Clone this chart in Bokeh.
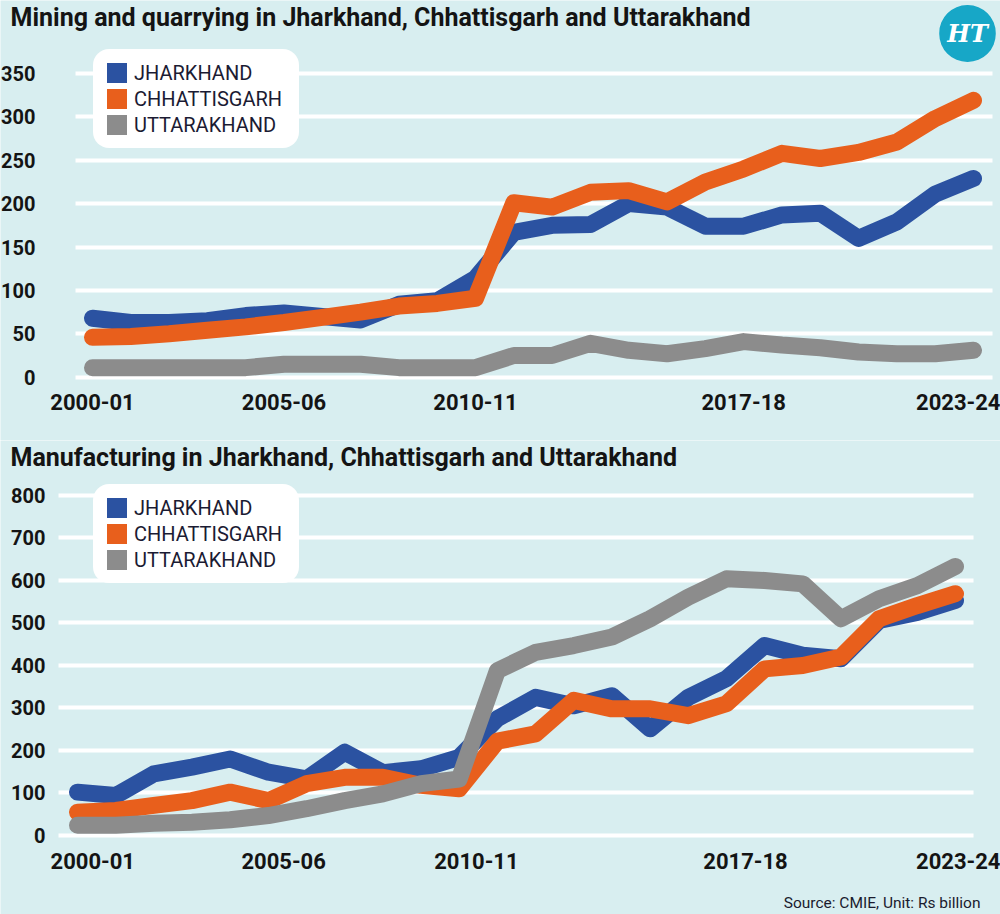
from bokeh.plotting import figure
from bokeh.layouts import column
from bokeh.models import (Range1d, FixedTicker, CustomJSTickFormatter, Legend,
                          LegendItem, Label, ColumnDataSource)
from bokeh.embed import file_html
from bokeh.resources import INLINE

# Fiscal years on the x axis (index 0 = 2000-01)
years = ["2000-01", "2001-02", "2002-03", "2003-04", "2004-05", "2005-06",
         "2006-07", "2007-08", "2008-09", "2009-10", "2010-11", "2011-12",
         "2012-13", "2013-14", "2014-15", "2015-16", "2016-17", "2017-18",
         "2018-19", "2019-20", "2020-21", "2021-22", "2022-23", "2023-24"]
tick_labels = ["2000-01", "2005-06", "2010-11", "2017-18", "2023-24"]

states = ["JHARKHAND", "CHHATTISGARH", "UTTARAKHAND"]

# Mining and quarrying, Rs billion
mining_jharkhand = [68, 63, 63, 65, 71, 74, 70, 66, 84, 88, 114, 167,
                    175, 176, 200, 196, 174, 174, 187, 189, 160, 179, 211, 229]
mining_chhattisgarh = [46, 47, 50, 54, 58, 63, 69, 75, 82, 85, 91, 201,
                       196, 213, 215, 202, 225, 240, 258, 252, 259, 271, 298, 319]
mining_uttarakhand = [11, 11, 11, 11, 11, 15, 15, 15, 11, 11, 11, 25,
                      25, 39, 31, 27, 33, 41, 37, 34, 29, 27, 27, 31]
mining_ticks = [0, 50, 100, 150, 200, 250, 300, 350]

# Manufacturing, Rs billion
manuf_jharkhand = [102, 94, 145, 161, 180, 149, 133, 196, 148, 157, 184, 275,
                   325, 305, 329, 251, 325, 369, 447, 424, 416, 506, 525, 553]
manuf_chhattisgarh = [55, 59, 71, 82, 102, 82, 122, 137, 137, 118, 110, 222,
                      239, 318, 298, 298, 282, 310, 392, 400, 420, 510, 541, 569]
manuf_uttarakhand = [24, 24, 29, 31, 37, 47, 63, 82, 98, 122, 133, 388,
                     431, 447, 467, 510, 561, 604, 600, 592, 510, 557, 588, 633]
manuf_ticks = [0, 100, 200, 300, 400, 500, 600, 700, 800]

COLORS = {"JHARKHAND": "#2b52a1", "CHHATTISGARH": "#e85f1c", "UTTARAKHAND": "#8c8c8c"}
BG = "#d8eef0"
INK = "#141414"
FONT = "Roboto"
x_index = list(range(len(years)))
NAN = float("nan")


def make_panel(title, series, draw_order, yticks, xr, yr, height, grid_span,
               xaxis_at, yaxis_at, label_pos, ylabel_standoff, legend_top):
    # the plot frame fills the whole figure; axes sit at fixed locations
    p = figure(width=1000, height=height, output_backend="svg", title=None,
               toolbar_location=None, x_range=Range1d(*xr), y_range=Range1d(*yr),
               min_border=0, min_border_left=0, min_border_right=0,
               min_border_top=0, min_border_bottom=0)
    p.background_fill_color = BG
    p.border_fill_color = BG
    p.outline_line_color = None

    p.add_layout(Label(x=10, y=height - 17, x_units="screen", y_units="screen",
                       text=title, text_font=FONT, text_font_size="25px",
                       text_font_style="bold", text_color=INK,
                       text_align="left", text_baseline="alphabetic"))

    p.xgrid.visible = False
    p.ygrid.ticker = FixedTicker(ticks=yticks)
    p.ygrid.grid_line_color = "white"
    p.ygrid.grid_line_width = 4
    try:
        p.ygrid.cross_bounds = grid_span
    except Exception:
        pass

    # series lines
    for name in draw_order:
        src = ColumnDataSource(dict(x=x_index, y=series[name]))
        p.line("x", "y", source=src, line_color=COLORS[name], line_width=17,
               line_cap="round", line_join="round")

    # axes
    xa = p.xaxis[0]
    xa.fixed_location = xaxis_at
    xa.ticker = FixedTicker(ticks=label_pos)
    xa.formatter = CustomJSTickFormatter(
        args=dict(pos=label_pos, labels=tick_labels),
        code="const i = pos.findIndex(t => Math.abs(t - tick) < 1e-6);"
             "return i >= 0 ? labels[i] : '';")
    ya = p.yaxis[0]
    ya.fixed_location = yaxis_at
    ya.ticker = FixedTicker(ticks=yticks)
    for ax, standoff, size in ((xa, 8, "22px"), (ya, ylabel_standoff, "20px")):
        ax.axis_line_color = None
        ax.major_tick_line_color = None
        ax.minor_tick_line_color = None
        ax.major_tick_out = 0
        ax.major_tick_in = 0
        ax.minor_tick_out = 0
        ax.minor_tick_in = 0
        ax.major_label_text_font = FONT
        ax.major_label_text_font_style = "bold"
        ax.major_label_text_font_size = size
        ax.major_label_text_color = INK
        ax.major_label_standoff = standoff

    # legend with square swatches
    items = []
    for name in states:
        sw = p.quad(left=[NAN], right=[NAN], top=[NAN], bottom=[NAN],
                    fill_color=COLORS[name], line_color=None)
        items.append(LegendItem(label=name, renderers=[sw]))
    legend = Legend(items=items, location=(93, height - legend_top - 97),
                    margin=0, padding=10,
                    spacing=1, glyph_width=25, glyph_height=25, label_height=25,
                    label_width=154, label_standoff=5,
                    background_fill_color="white", background_fill_alpha=1.0,
                    border_line_color="white", border_line_width=1,
                    label_text_font=FONT, label_text_font_size="20px",
                    label_text_color="#1b1b33")
    try:
        legend.border_radius = 16
    except Exception:
        pass
    p.add_layout(legend)
    return p


mining = dict(JHARKHAND=mining_jharkhand, CHHATTISGARH=mining_chhattisgarh,
              UTTARAKHAND=mining_uttarakhand)
manuf = dict(JHARKHAND=manuf_jharkhand, CHHATTISGARH=manuf_chhattisgarh,
             UTTARAKHAND=manuf_uttarakhand)

p1 = make_panel("Mining and quarrying in Jharkhand, Chhattisgarh and Uttarakhand",
                mining, ["UTTARAKHAND", "JHARKHAND", "CHHATTISGARH"], mining_ticks,
                xr=(-2.4018, 23.705), yr=(-72.95, 434.1), height=440,
                grid_span=(-0.444, 23.496), xaxis_at=-9.57, yaxis_at=-0.8876,
                label_pos=[0, 5, 10, 17, 22.7], ylabel_standoff=23, legend_top=51)

p2 = make_panel("Manufacturing in Jharkhand, Chhattisgarh and Uttarakhand",
                manuf, ["JHARKHAND", "CHHATTISGARH", "UTTARAKHAND"], manuf_ticks,
                xr=(-2.0171, 24.179), yr=(-185.9, 929.4), height=474,
                grid_span=(-0.4977, 23.4715), xaxis_at=-23.53, yaxis_at=-0.4977,
                label_pos=[0.4, 5.4, 10.45, 17.5, 23.15], ylabel_standoff=13,
                legend_top=46)

# HT masthead badge
logo = Label(x=967, y=440 - 33, x_units="screen", y_units="screen", text="HT",
             text_font="DejaVu Serif", text_font_style="bold italic",
             text_font_size="24px", text_color="white", text_align="center",
             text_baseline="middle", background_fill_color="#17a7c7")
try:
    logo.padding = dict(left=8, right=8, top=14, bottom=14)
    logo.border_radius = 28
except Exception:
    pass
p1.add_layout(logo)

p2.add_layout(Label(x=980, y=12, x_units="screen", y_units="screen",
                    text="Source: CMIE, Unit: Rs billion", text_font=FONT,
                    text_font_size="15.5px", text_color="#1b1b2e",
                    text_align="right", text_baseline="alphabetic"))

layout = column(p1, p2, spacing=0)
open("out.html", "w").write(file_html(layout, INLINE))
